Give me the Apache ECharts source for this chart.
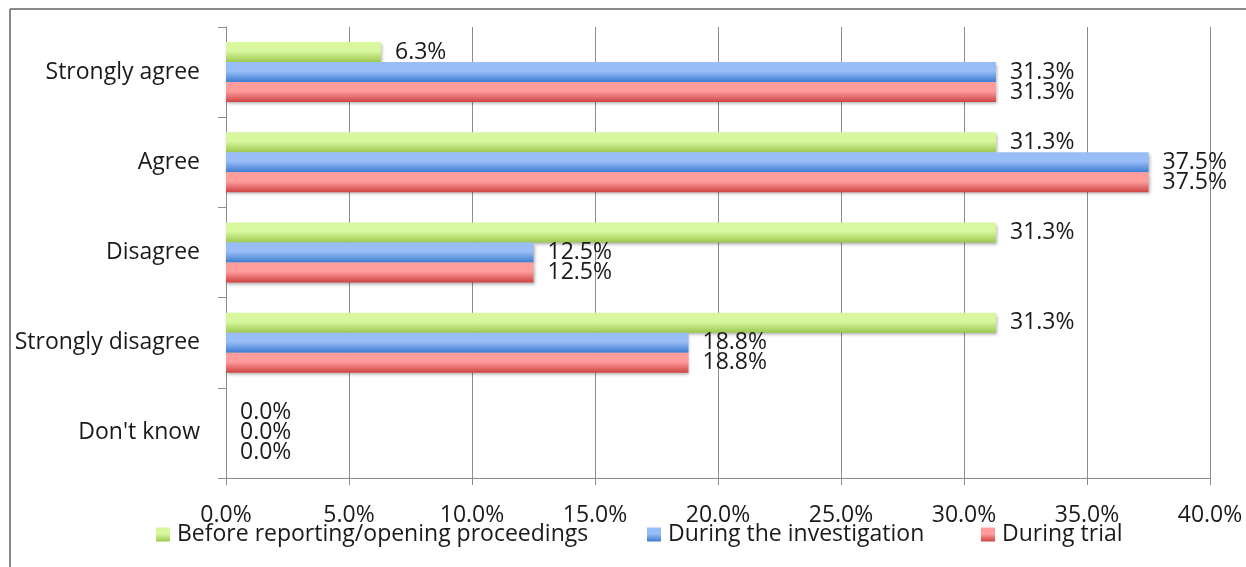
<!DOCTYPE html>
<html><head><meta charset="utf-8">
<script src="https://cdn.jsdelivr.net/npm/echarts@6/dist/echarts.min.js"></script>
<style>html,body{margin:0;padding:0;background:#fff}#c{width:1246px;height:567px}</style>
</head><body><div id="c"></div>
<script>
var categories = ["Strongly agree", "Agree", "Disagree", "Strongly disagree", "Don't know"];
var seriesNames = ["Before reporting/opening proceedings", "During the investigation", "During trial"];
var beforeReporting = [6.3, 31.3, 31.3, 31.3, 0.0];
var duringInvestigation = [31.3, 37.5, 12.5, 18.8, 0.0];
var duringTrial = [31.3, 37.5, 12.5, 18.8, 0.0];
var xTicks = [0, 5, 10, 15, 20, 25, 30, 35, 40];

var FONT = "Open Sans";
var FS = 23;
var TXT = '#1a1a1a';
function grad(top, bottom) {
  return new echarts.graphic.LinearGradient(0, 0, 0, 1, [
    {offset: 0, color: top}, {offset: 0.45, color: top}, {offset: 1, color: bottom}
  ]);
}
var colors = [grad('#d8f79f', '#9cc84e'), grad('#98bdf7', '#3e7cd0'), grad('#ff9d9d', '#cf4343')];
var datas = [beforeReporting, duringInvestigation, duringTrial];
var legendLefts = [151, 642, 976];

var chart = echarts.init(document.getElementById('c'));
chart.setOption({
  animation: false,
  textStyle: {fontFamily: FONT},
  graphic: [
    {type: 'line', shape: {x1: 10, y1: 9, x2: 1246, y2: 9}, style: {stroke: '#8a8a8a', lineWidth: 2}},
    {type: 'line', shape: {x1: 10, y1: 9, x2: 10, y2: 567}, style: {stroke: '#8a8a8a', lineWidth: 2}}
  ],
  grid: {left: 226, right: 36, top: 27, bottom: 89, containLabel: false},
  legend: seriesNames.map(function (n, i) {
    return {
      bottom: 16, left: legendLefts[i],
      itemWidth: 14, itemHeight: 14, itemGap: 0,
      icon: 'rect',
      textStyle: {fontFamily: FONT, fontSize: FS, color: TXT, padding: [0, 0, 0, 2]},
      data: [n]
    };
  }),
  xAxis: {
    type: 'value', min: xTicks[0], max: xTicks[xTicks.length - 1], interval: 5,
    axisLine: {show: true, lineStyle: {color: '#8c8c8c', width: 1}},
    axisTick: {show: true, length: 7, lineStyle: {color: '#8c8c8c'}},
    splitLine: {show: true, lineStyle: {color: '#8c8c8c', width: 1}},
    axisLabel: {fontFamily: FONT, fontSize: FS, color: TXT, margin: 26,
      formatter: function (v) { return v.toFixed(1) + '%'; }}
  },
  yAxis: {
    type: 'category', data: categories, inverse: true,
    axisLine: {show: true, lineStyle: {color: '#8c8c8c', width: 1}},
    axisTick: {show: true, length: 8, lineStyle: {color: '#8c8c8c'}},
    axisLabel: {fontFamily: FONT, fontSize: FS, color: TXT, margin: 26}
  },
  series: datas.map(function (d, i) {
    return {
      name: seriesNames[i], type: 'bar', data: d,
      barWidth: 20, barGap: '0%', barCategoryGap: '33%',
      itemStyle: {color: colors[i], shadowBlur: 3, shadowColor: 'rgba(0,0,0,0.3)', shadowOffsetX: 1, shadowOffsetY: 2},
      label: {show: true, position: 'right', distance: 14, fontFamily: FONT, fontSize: FS, color: TXT,
        formatter: function (p) { return p.value.toFixed(1) + '%'; }}
    };
  })
});
</script></body></html>
